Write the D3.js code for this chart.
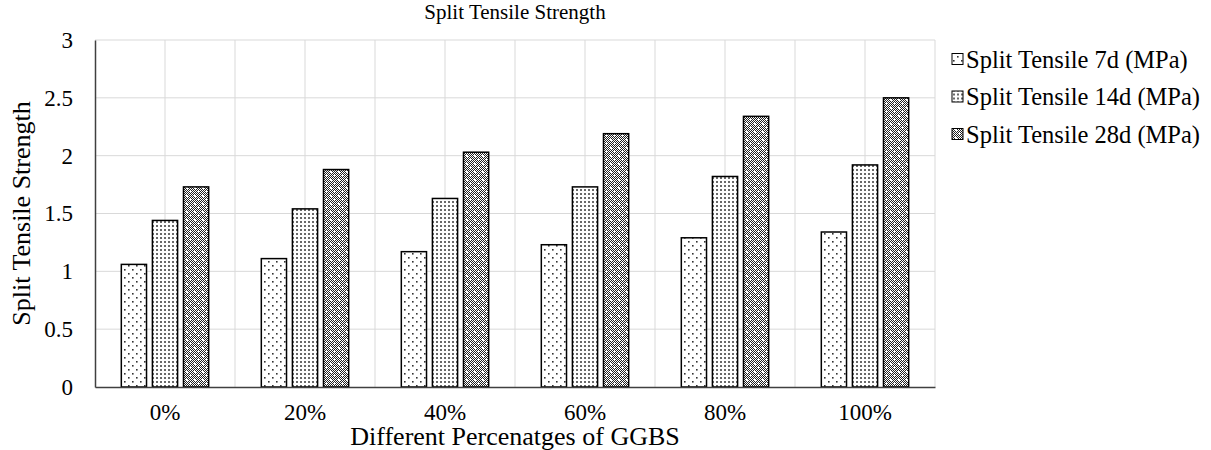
<!DOCTYPE html>
<html>
<head>
<meta charset="utf-8">
<script src="https://cdn.jsdelivr.net/npm/d3@7"></script>
<style>
  html, body { margin: 0; padding: 0; background: #fff; }
  svg { display: block; }
  svg text { font-family: "Liberation Serif", "Times New Roman", Times, serif; fill: #000; }
</style>
</head>
<body>
<svg id="chart" width="1211" height="450"></svg>
<script>
// GGBS replacement levels and split tensile strength (MPa) at each curing age
const categories = ["0%", "20%", "40%", "60%", "80%", "100%"];
const tensile7d  = [1.06, 1.11, 1.17, 1.23, 1.29, 1.34];
const tensile14d = [1.44, 1.54, 1.63, 1.73, 1.82, 1.92];
const tensile28d = [1.73, 1.88, 2.03, 2.19, 2.34, 2.50];
const seriesNames = ["Split Tensile 7d (MPa)", "Split Tensile 14d (MPa)", "Split Tensile 28d (MPa)"];
const yTicks = [0, 0.5, 1, 1.5, 2, 2.5, 3];

const series = [
  { name: seriesNames[0], values: tensile7d,  pattern: "pat7" },
  { name: seriesNames[1], values: tensile14d, pattern: "pat14" },
  { name: seriesNames[2], values: tensile28d, pattern: "pat28" }
];

const FONT = "Liberation Serif, Times New Roman, serif";
const svg = d3.select("#chart");
const margin = { left: 95, right: 276, top: 40, bottom: 63 };
const W = 1211, H = 450;
const plotW = W - margin.left - margin.right;
const plotH = H - margin.top - margin.bottom;

// Fill patterns for the three curing ages
const defs = svg.append("defs");
// sparse staggered dots
const p7 = defs.append("pattern").attr("id", "pat7").attr("patternUnits", "userSpaceOnUse")
  .attr("width", 8).attr("height", 8);
p7.append("rect").attr("width", 8).attr("height", 8).attr("fill", "#fff");
p7.append("rect").attr("x", 1).attr("y", 1).attr("width", 1.6).attr("height", 1.6).attr("fill", "#333");
p7.append("rect").attr("x", 5).attr("y", 5).attr("width", 1.6).attr("height", 1.6).attr("fill", "#333");
// dense dot grid
const p14 = defs.append("pattern").attr("id", "pat14").attr("patternUnits", "userSpaceOnUse")
  .attr("width", 4).attr("height", 4);
p14.append("rect").attr("width", 4).attr("height", 4).attr("fill", "#fff");
p14.append("rect").attr("x", 1).attr("y", 1).attr("width", 2).attr("height", 2).attr("fill", "#6a6a6a");
// checkerboard with light specks
const p28 = defs.append("pattern").attr("id", "pat28").attr("patternUnits", "userSpaceOnUse")
  .attr("width", 8).attr("height", 8);
p28.append("rect").attr("width", 8).attr("height", 8).attr("fill", "#fff");
for (let i = 0; i < 8; i++) {
  for (let j = 0; j < 8; j++) {
    if ((i + j) % 2 === 0) {
      p28.append("rect").attr("x", i).attr("y", j).attr("width", 1).attr("height", 1).attr("fill", "#222");
    }
  }
}
p28.append("rect").attr("x", 3).attr("y", 3).attr("width", 2).attr("height", 2).attr("fill", "#fff");
p28.append("rect").attr("x", 7).attr("y", 7).attr("width", 1).attr("height", 1).attr("fill", "#fff");

const g = svg.append("g").attr("transform", `translate(${margin.left},${margin.top})`);

const x = d3.scaleBand().domain(categories).range([0, plotW]).paddingInner(0).paddingOuter(0);
const y = d3.scaleLinear().domain([0, 3]).range([plotH, 0]);
const barW = x.bandwidth() * 0.18;
const barStep = x.bandwidth() * 0.222;

// gridlines
g.append("g").selectAll("line.h").data(yTicks.filter(t => t > 0)).join("line")
  .attr("x1", 0).attr("x2", plotW)
  .attr("y1", d => y(d)).attr("y2", d => y(d))
  .attr("stroke", "#d9d9d9").attr("stroke-width", 1);
const vLines = [];
categories.forEach(c => { vLines.push(x(c) + x.bandwidth() / 2); vLines.push(x(c) + x.bandwidth()); });
g.append("g").selectAll("line.v").data(vLines).join("line")
  .attr("x1", d => d).attr("x2", d => d)
  .attr("y1", 0).attr("y2", plotH)
  .attr("stroke", "#d9d9d9").attr("stroke-width", 1);

// bars
series.forEach((s, si) => {
  g.append("g").selectAll("rect").data(s.values).join("rect")
    .attr("x", (d, i) => x(categories[i]) + x.bandwidth() / 2 + (si - 1) * barStep - barW / 2)
    .attr("y", d => y(d))
    .attr("width", barW)
    .attr("height", d => plotH - y(d))
    .attr("fill", `url(#${s.pattern})`)
    .attr("stroke", "#000").attr("stroke-width", 1.5);
});

// axes
const yAxis = g.append("g")
  .call(d3.axisLeft(y).tickValues(yTicks).tickSize(0).tickPadding(22).tickFormat(d3.format("")));
yAxis.attr("font-family", FONT);
yAxis.select(".domain").attr("stroke", "#404040").attr("stroke-width", 1.5);
yAxis.selectAll("text").attr("font-size", 23).attr("fill", "#000");

const xAxis = g.append("g").attr("transform", `translate(0,${plotH})`)
  .call(d3.axisBottom(x).tickSize(0).tickPadding(17));
xAxis.attr("font-family", FONT);
xAxis.select(".domain").attr("stroke", "#404040").attr("stroke-width", 1.5);
xAxis.selectAll("text").attr("font-size", 23).attr("fill", "#000");

// titles
svg.append("text").attr("x", margin.left + plotW / 2).attr("y", 19)
  .attr("text-anchor", "middle").attr("font-size", 21).text("Split Tensile Strength");
svg.append("text").attr("x", margin.left + plotW / 2).attr("y", 445)
  .attr("text-anchor", "middle").attr("font-size", 26).text("Different Percenatges of GGBS");
svg.append("text").attr("transform", `translate(30,${margin.top + plotH / 2}) rotate(-90)`)
  .attr("text-anchor", "middle").attr("font-size", 26).text("Split Tensile Strength");

// legend
const legend = svg.append("g").attr("transform", "translate(952,59)");
const item = legend.selectAll("g").data(series).join("g")
  .attr("transform", (d, i) => `translate(0,${i * 37.5})`);
item.append("rect").attr("x", 0).attr("y", -5.5).attr("width", 11).attr("height", 11)
  .attr("fill", d => `url(#${d.pattern})`).attr("stroke", "#000").attr("stroke-width", 1);
item.append("text").attr("x", 14).attr("y", 8.5).attr("font-size", 24.5).text(d => d.name);
</script>
</body>
</html>
